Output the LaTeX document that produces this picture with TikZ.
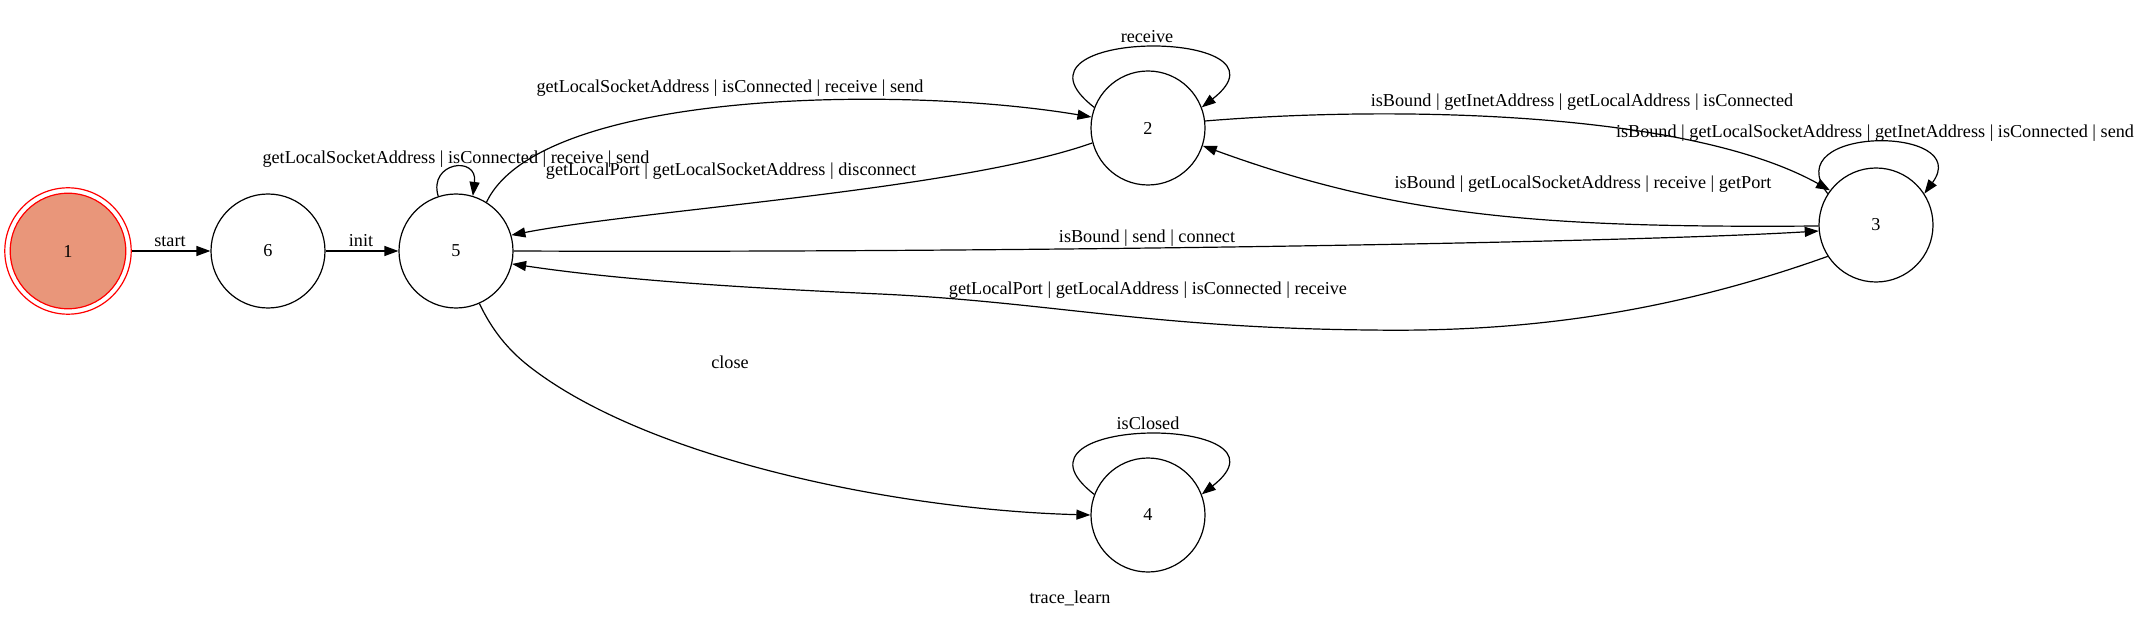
\documentclass[tikz,border=0pt]{standalone}
\usepackage{fontspec}
\setmainfont{Liberation Serif}
\usetikzlibrary{arrows.meta}
\definecolor{dsalmon}{HTML}{E9967A}
\tikzset{
  state/.style={circle, draw, line width=1.2pt, minimum size=114pt, inner sep=0pt},
  edge/.style={line width=1.2pt, -{Triangle[length=14pt,width=10pt]}},
  lbl/.style={inner sep=0pt}
}
\begin{document}
\begin{tikzpicture}[x=1pt, y=-1pt, every node/.style={font=\fontsize{18.2}{22}\selectfont}]
\useasboundingbox (0,0) rectangle (2141,620);
% nodes
\node[circle, draw=red, fill=dsalmon, line width=1.2pt, minimum size=115.6pt, inner sep=0pt] (n1) at (68,251) {1};
\node[circle, draw=red, line width=1.2pt, minimum size=126.4pt, inner sep=0pt] (n1o) at (68,251) {};
\node[state] (n6) at (268,251) {6};
\node[state] (n5) at (456,251) {5};
\node[state] (n2) at (1148,128) {2};
\node[state] (n3) at (1876,225) {3};
\node[state] (n4) at (1148,515) {4};
% edges
\draw[edge] (n1o) -- (n6);
\draw[edge] (n6) -- (n5);
\draw[edge] (n5.108) .. controls (428,162) and (478,155) .. (n5.73);
\draw[edge] (n5.58) .. controls (540,90) and (900,85) .. (n2.169);
\draw[edge] (n2.195) .. controls (960,190) and (640,210) .. (n5.16);
\draw[edge] (n5.0) .. controls (1000,253) and (1620,243) .. (n3.186);
\draw[edge] (n3.213) .. controls (1650,320) and (1500,332) .. (1370,330)
  .. controls (1150,328) and (1050,302) .. (880,294)
  .. controls (700,286) and (600,277) .. (n5.-13);
\draw[edge] (n2.7) .. controls (1400,105) and (1690,112) .. (n3.143);
\draw[edge] (n3.181) .. controls (1550,228) and (1400,218) .. (n2.-18);
\draw[edge] (n3.147) .. controls (1775,125) and (1975,125) .. (n3.33);
\draw[edge] (n2.159) .. controls (990,27) and (1305,27) .. (n2.21);
\draw[edge] (n4.159) .. controls (990,414) and (1305,414) .. (n4.21);
\draw[edge] (n5.-66) .. controls (492,330) and (508,350) .. (530,367)
  .. controls (650,460) and (900,510) .. (n4.180);
% labels
\node[lbl] (l16) at (170,241) {start};
\node[lbl] (l65) at (361,241) {init};
\node[lbl] (l55) at (456,159) {getLocalSocketAddress | isConnected | receive | send};
\node[lbl] (l52) at (730,88) {getLocalSocketAddress | isConnected | receive | send};
\node[lbl] (l25) at (731,171) {getLocalPort | getLocalSocketAddress | disconnect};
\node[lbl] (l22) at (1147,37) {receive};
\node[lbl] (l23) at (1582,102) {isBound | getInetAddress | getLocalAddress | isConnected};
\node[lbl] (l33) at (1875,133) {isBound | getLocalSocketAddress | getInetAddress | isConnected | send};
\node[lbl] (l32) at (1583,184) {isBound | getLocalSocketAddress | receive | getPort};
\node[lbl] (l53) at (1147,238) {isBound | send | connect};
\node[lbl] (l35) at (1148,290) {getLocalPort | getLocalAddress | isConnected | receive};
\node[lbl] (l54) at (730,362) {close};
\node[lbl] (l44) at (1148,423) {isClosed};
\node[lbl] (ltitle) at (1070,598) {trace\_learn};
\end{tikzpicture}
\end{document}
